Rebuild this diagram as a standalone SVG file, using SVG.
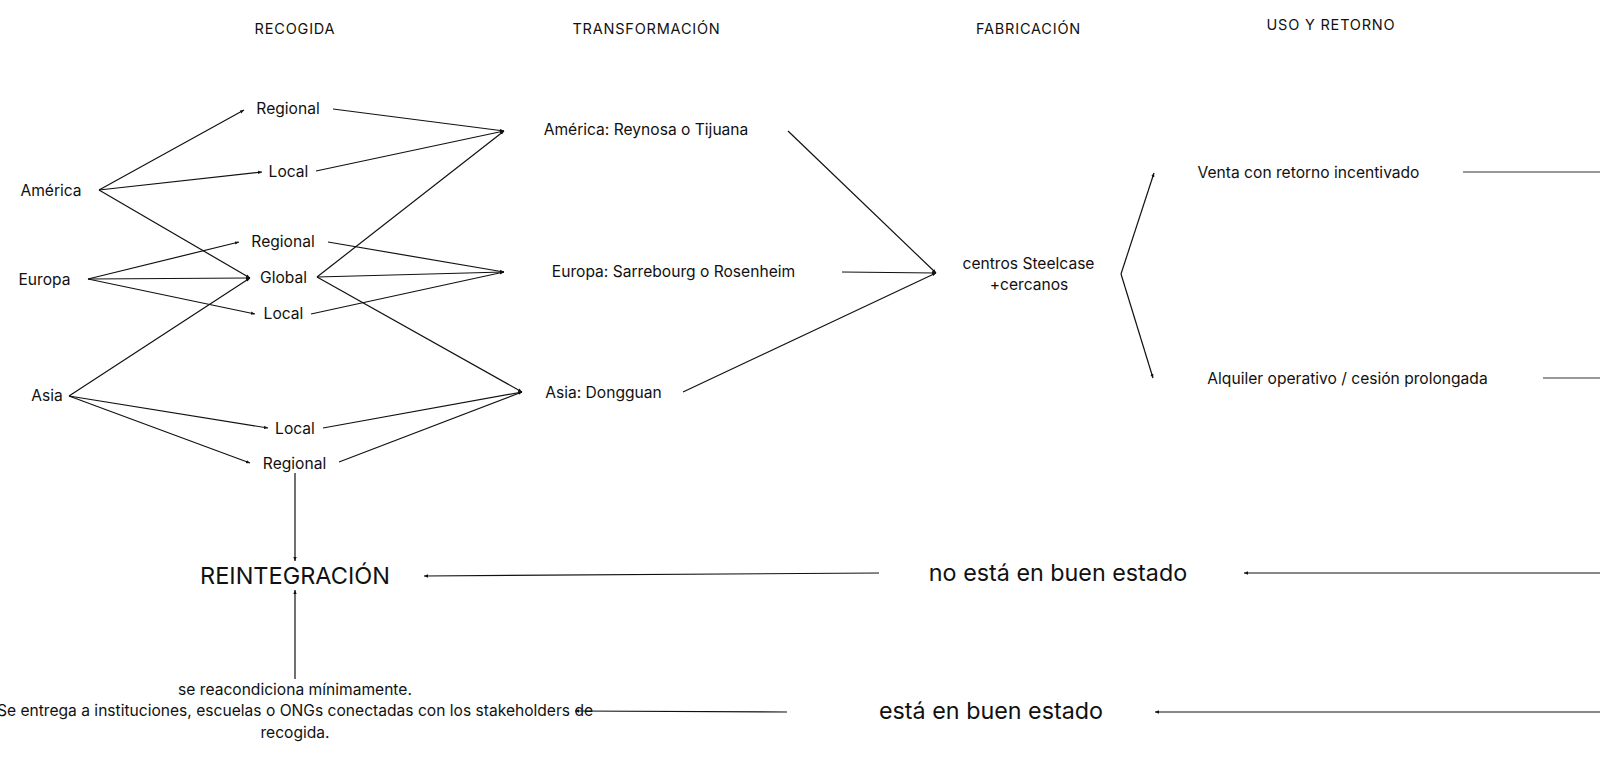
<svg xmlns="http://www.w3.org/2000/svg" width="1600" height="766" viewBox="0 0 1600 766">
<defs>
<style>
text{font-family:Inter,"Liberation Sans",sans-serif;fill:#111;text-anchor:middle}
.h{font-size:14.5px;letter-spacing:0.8px}
.n{font-size:15.6px}
.b{font-size:23.5px}
.m{font-size:23.3px}
.c line{stroke:#111;stroke-width:1.2;fill:none}
.c line.a{marker-end:url(#ah)}
.c line.g{stroke:#333}
</style>
<marker id="ah" viewBox="0 0 6 6" refX="6" refY="3" markerWidth="4" markerHeight="4" markerUnits="userSpaceOnUse" orient="auto"><path d="M0,0.5 L6,3 L0,5.5 z" fill="#111"/></marker>
</defs>
<rect width="1600" height="766" fill="#fff"/>
<g id="headers">
<text class="h" x="295" y="34">RECOGIDA</text>
<text class="h" x="646.5" y="34">TRANSFORMACIÓN</text>
<text class="h" x="1028.5" y="34">FABRICACIÓN</text>
<text class="h" x="1331" y="30">USO Y RETORNO</text>
</g>
<g class="c" id="connectors">
<line class="a" x1="99" y1="190" x2="244" y2="110"/>
<line class="a" x1="99" y1="190" x2="262" y2="172"/>
<line class="a" x1="99" y1="190" x2="250" y2="278"/>
<line class="a" x1="88" y1="279" x2="239" y2="242"/>
<line class="a" x1="88" y1="279" x2="250" y2="278"/>
<line class="a" x1="88" y1="279" x2="255" y2="314"/>
<line class="a" x1="69" y1="396" x2="250" y2="278"/>
<line class="a" x1="69" y1="396" x2="268" y2="428"/>
<line class="a" x1="69" y1="396" x2="250" y2="463"/>
<line class="a" x1="333" y1="109" x2="504" y2="131"/>
<line class="a" x1="316" y1="171" x2="504" y2="131"/>
<line class="a" x1="317" y1="277" x2="504" y2="131"/>
<line class="a" x1="328" y1="242" x2="504" y2="272"/>
<line class="a" x1="317" y1="277" x2="504" y2="272"/>
<line class="a" x1="311" y1="314" x2="504" y2="272"/>
<line class="a" x1="317" y1="277" x2="522" y2="392"/>
<line class="a" x1="323" y1="428" x2="522" y2="392"/>
<line class="a" x1="339" y1="462" x2="522" y2="392"/>
<line class="a" x1="788" y1="131" x2="936" y2="273"/>
<line class="a" x1="842" y1="272" x2="936" y2="273"/>
<line class="a" x1="683" y1="392" x2="936" y2="273"/>
<line class="a" x1="1121" y1="274" x2="1154" y2="173"/>
<line class="a" x1="1121" y1="274" x2="1153" y2="378"/>
<line class="g" x1="1463" y1="172" x2="1600" y2="172"/>
<line class="g" x1="1543" y1="378" x2="1600" y2="378"/>
<line class="a" x1="1600" y1="573" x2="1244" y2="573"/>
<line class="a" x1="879" y1="573" x2="424" y2="576"/>
<line class="a" x1="295" y1="473" x2="295" y2="561"/>
<line class="a" x1="295" y1="679" x2="295" y2="590"/>
<line class="a" x1="1600" y1="712" x2="1155" y2="712"/>
<line class="a" x1="787" y1="712" x2="575" y2="711"/>
</g>
<g id="america"><text class="n" x="51" y="195.6">América</text></g>
<g id="europa"><text class="n" x="44.5" y="284.6">Europa</text></g>
<g id="asia"><text class="n" x="47" y="400.6">Asia</text></g>
<g id="regional-am"><text class="n" x="288" y="113.6">Regional</text></g>
<g id="local-am"><text class="n" x="288.5" y="176.6">Local</text></g>
<g id="regional-eu"><text class="n" x="283" y="246.6">Regional</text></g>
<g id="global"><text class="n" x="283.5" y="282.6">Global</text></g>
<g id="local-eu"><text class="n" x="283.5" y="318.6">Local</text></g>
<g id="local-as"><text class="n" x="295" y="433.6">Local</text></g>
<g id="regional-as"><text class="n" x="294.5" y="468.6">Regional</text></g>
<g id="t-america"><text class="n" x="646" y="134.6">América: Reynosa o Tijuana</text></g>
<g id="t-europa"><text class="n" x="673.5" y="276.6">Europa: Sarrebourg o Rosenheim</text></g>
<g id="t-asia"><text class="n" x="603.5" y="397.6">Asia: Dongguan</text></g>
<g id="fabricacion"><text class="n" x="1028.5" y="268.6">centros Steelcase</text><text class="n" x="1029" y="289.6">+cercanos</text></g>
<g id="venta"><text class="n" x="1308.5" y="177.6">Venta con retorno incentivado</text></g>
<g id="alquiler"><text class="n" x="1347.5" y="383.6">Alquiler operativo / cesión prolongada</text></g>
<g id="reintegracion"><text class="b" x="295" y="584">REINTEGRACIÓN</text></g>
<g id="no-buen-estado"><text class="m" x="1058" y="581">no está en buen estado</text></g>
<g id="buen-estado"><text class="m" x="991" y="719">está en buen estado</text></g>
<g id="reacondiciona">
<text class="n" x="295" y="694.6">se reacondiciona mínimamente.</text>
<text class="n" x="295" y="715.6">Se entrega a instituciones, escuelas o ONGs conectadas con los stakeholders de</text>
<text class="n" x="295" y="737.6">recogida.</text>
</g>
</svg>
